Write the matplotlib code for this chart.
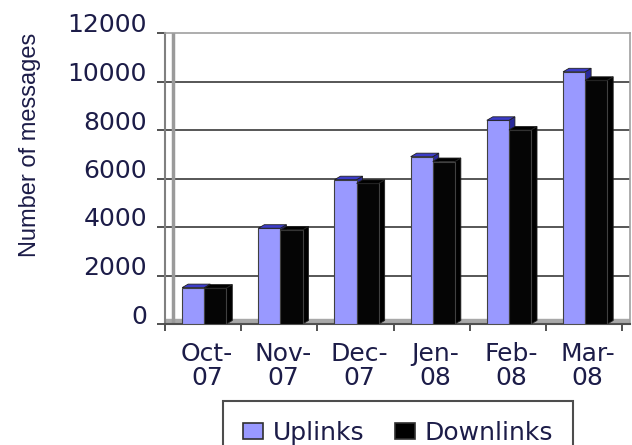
import matplotlib
matplotlib.use('Agg')
import matplotlib.pyplot as plt
from matplotlib.patches import Polygon, Patch
from matplotlib.transforms import ScaledTranslation
import numpy as np

months = ["Oct-\n07", "Nov-\n07", "Dec-\n07", "Jen-\n08", "Feb-\n08", "Mar-\n08"]
uplinks = [1500, 3950, 5950, 6900, 8400, 10400]
downlinks = [1480, 3880, 5800, 6700, 8000, 10050]
yticks = [0, 2000, 4000, 6000, 8000, 10000, 12000]
series_names = ["Uplinks", "Downlinks"]

W, H = 632, 445
TXT = '#1c1c48'
UP = '#9999ff'
UP_TOP = '#3c3cc8'
UP_SIDE = '#2a2a9a'
DN = '#050505'

fig = plt.figure(figsize=(W / 100, H / 100), dpi=100)
ax = fig.add_axes([165 / W, 1 - 324 / H, 465 / W, 291 / H])
ax.set_xlim(-0.474, 5.604)
ax.set_ylim(0, 12000)

px_x = 76.5          # pixels per category
px_y = 291 / 12000   # pixels per unit
dx = 6 / px_x
dy = 3.5 / px_y
bw = 0.29
offs = [-0.13, 0.16]

x = np.arange(len(months))

# gridlines
for yt in yticks[1:-1]:
    ax.axhline(yt, color='#3a3a3a', lw=1.2, zorder=0)

# floor
ax.axhspan(0, dy * 1.4, color='#a8a8a8', zorder=0.5)
# left wall
ax.axvline(-0.474 + dx, color='#9a9a9a', lw=2.5, zorder=0.6)

def draw_series(vals, off, face, top, side, z):
    xc = x + off
    ax.bar(xc, vals, width=bw, color=face, edgecolor='#404040', lw=0.8, zorder=z)
    for xi, h in zip(xc, vals):
        x0, x1 = xi - bw / 2, xi + bw / 2
        ax.add_patch(Polygon([(x1, 0), (x1, h), (x1 + dx, h + dy), (x1 + dx, dy)],
                             closed=True, facecolor=side, edgecolor='#202020', lw=0.6, zorder=z - 0.1))
        ax.add_patch(Polygon([(x0, h), (x1, h), (x1 + dx, h + dy), (x0 + dx, h + dy)],
                             closed=True, facecolor=top, edgecolor='#202020', lw=0.6, zorder=z + 0.1))

draw_series(uplinks, offs[0], UP, UP_TOP, UP_SIDE, 3)
draw_series(downlinks, offs[1], DN, '#000000', '#000000', 5)

for s in ['top', 'right']:
    ax.spines[s].set_color('#a0a0a0')
    ax.spines[s].set_linewidth(1.2)
ax.spines['left'].set_color('#808080')
ax.spines['left'].set_linewidth(1.5)
ax.spines['bottom'].set_color('#505050')
ax.spines['bottom'].set_linewidth(1.5)

ax.set_yticks(yticks)
ax.set_yticklabels([str(v) for v in yticks], fontsize=18, color=TXT)
ax.tick_params(axis='y', length=6, width=1.2, color='#333333', pad=7)
shift = ScaledTranslation(0, 10 / 100, fig.dpi_scale_trans)
for lab in ax.get_yticklabels():
    lab.set_transform(lab.get_transform() + shift)

ax.set_xticks(x + 0.05)
ax.set_xticklabels(months, fontsize=18, color=TXT, linespacing=1.0)
ax.tick_params(axis='x', length=0, pad=13)
ax.set_xticks(np.arange(-0.5, 6.0, 1.0), minor=True)
ax.tick_params(axis='x', which='minor', length=5, width=1.2, color='#333333')

fig.text(30 / W, 1 - 145 / H, "Number of messages", rotation=90, ha='center', va='center',
         fontsize=17, family='Liberation Sans', color=TXT)

handles = [Patch(facecolor=UP, edgecolor='#303030', lw=1.2),
           Patch(facecolor='black', edgecolor='#303030', lw=1.2)]
leg = fig.legend(handles, series_names, loc='upper center', bbox_to_anchor=(398 / W, 1 - 401 / H),
                 ncol=2, frameon=True, fancybox=False, fontsize=18, handlelength=0.8,
                 handleheight=0.6, handletextpad=0.4, columnspacing=1.2, borderpad=0.8,
                 borderaxespad=0)
leg.get_frame().set_edgecolor('#202020')
leg.get_frame().set_linewidth(1.5)
for t in leg.get_texts():
    t.set_color(TXT)

fig.savefig('out.png', dpi=100)
